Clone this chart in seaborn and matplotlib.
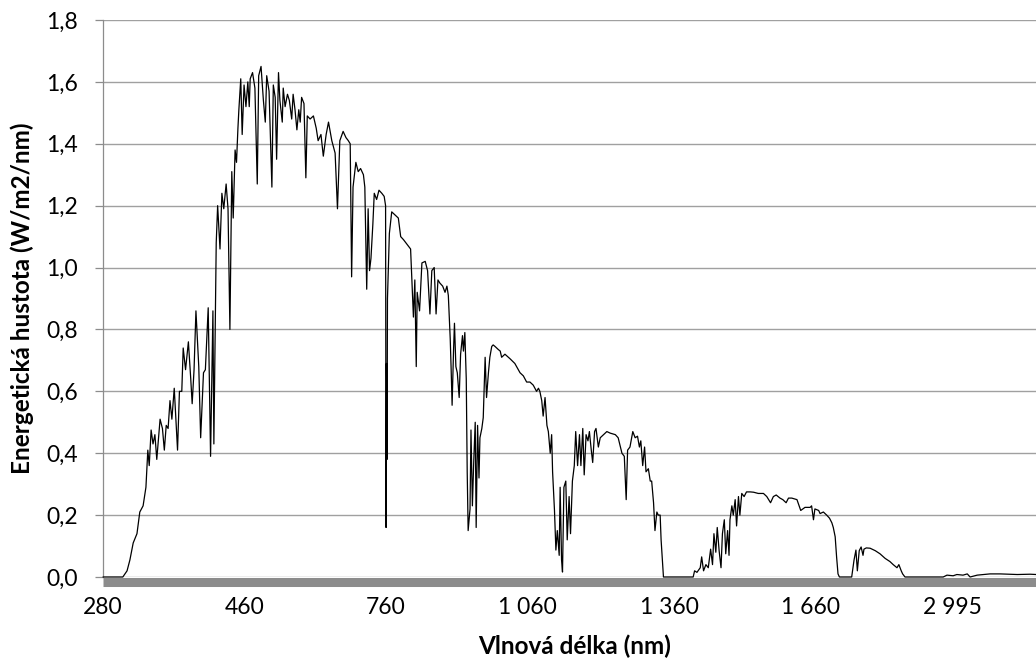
import numpy as np
import matplotlib
matplotlib.use("Agg")
import matplotlib.pyplot as plt
import seaborn as sns
import pandas as pd

# Spectral irradiance samples (wavelength in nm, W/m2/nm)
wavelength_nm = [
    280, 301, 305.5, 308.5, 312, 316, 319, 322.5, 325.5, 327.5, 329, 331, 333, 335, 337,
    340.5, 343, 345, 347, 349, 351, 353, 355.5, 359, 361, 363.5, 365, 367.5, 370.5, 373,
    374.5, 376.5, 378.5, 381.5, 383.5, 386.5, 388.5, 391.5, 394, 396.5, 397.5, 400,
    403, 408, 412, 416, 421, 425, 429, 433, 436, 440, 443, 446, 448, 452, 455, 459, 463,
    467, 470, 472, 477, 482, 487, 490, 495, 500, 504, 507, 512, 518, 521, 525, 528, 532,
    535, 540, 542, 546, 551, 555, 560, 563, 567, 571, 575, 578, 581, 586, 590, 593, 599,
    606, 612, 616, 622, 627, 633, 638, 645, 652, 657, 662, 669, 675, 680, 684, 687, 690,
    696, 701, 706, 712, 715, 719, 722, 725, 728, 732, 735, 740, 745, 751, 756, 759, 760,
    761, 762, 763, 767, 772, 779, 786, 791, 797, 802, 807, 812, 818, 821, 824, 826, 831,
    836, 843, 848, 853, 857, 862, 866, 870, 874, 880, 885, 889, 892, 896, 898, 900, 903,
    905, 908, 911, 915, 918, 922, 924, 927, 930, 932, 934, 938, 940, 943, 946, 949, 951,
    954, 957, 959, 963, 966, 970, 973, 977, 980, 984, 987, 991, 998, 1002, 1005, 1012,
    1023, 1033, 1044, 1051, 1058, 1065, 1072, 1079, 1083, 1086, 1090, 1093, 1097, 1101,
    1104, 1108, 1111, 1113, 1117, 1120, 1123, 1127, 1129, 1132, 1134, 1137, 1141, 1144,
    1148, 1151, 1155, 1159, 1162, 1166, 1170, 1173, 1177, 1180, 1184, 1188, 1191, 1195,
    1198, 1202, 1205, 1210, 1214, 1221, 1228, 1235, 1246, 1252, 1260, 1265, 1269, 1272,
    1277, 1283, 1288, 1293, 1297, 1300, 1304, 1308, 1311, 1316, 1320, 1323, 1327, 1330,
    1334, 1337, 1341, 1343, 1348, 1411, 1414, 1419, 1426, 1429, 1433, 1438, 1443, 1448,
    1452, 1455, 1459, 1462, 1466, 1470, 1473, 1477, 1480, 1484, 1487, 1489, 1493, 1496,
    1500, 1503, 1507, 1510, 1514, 1519, 1524, 1532, 1539, 1549, 1560, 1567, 1571, 1575,
    1581, 1587, 1595, 1601, 1608, 1613, 1620, 1631, 1639, 1648, 1659, 1662, 1666, 1669,
    1677, 1680, 1687, 1694, 1700, 1720, 1735, 1755, 1770, 1785, 1800, 1930, 1955, 1975,
    1990, 2010, 2030, 2050, 2060, 2085, 2125, 2180, 2230, 2285, 2335, 2370, 2410, 2430,
    2455, 2470, 2495, 2900, 2940, 3005, 3045, 3110, 3155, 3185, 3260, 3325, 3395, 3505,
    3685, 3820, 3885, 4000,
]
irradiance = [
    0.0, 0.0, 0.02, 0.055, 0.11, 0.14, 0.21, 0.23, 0.29, 0.41, 0.36, 0.475, 0.43, 0.46, 0.38,
    0.51, 0.48, 0.41, 0.49, 0.48, 0.57, 0.51, 0.61, 0.41, 0.60, 0.60, 0.74, 0.67, 0.76, 0.64,
    0.56, 0.67, 0.86, 0.68, 0.45, 0.66, 0.67, 0.87, 0.39, 0.86, 0.43, 1.08,
    1.20, 1.06, 1.24, 1.19, 1.27, 1.19, 0.80, 1.31, 1.16, 1.38, 1.34, 1.45, 1.51, 1.61, 1.43, 1.59, 1.52,
    1.60, 1.52, 1.61, 1.63, 1.58, 1.27, 1.62, 1.65, 1.54, 1.47, 1.62, 1.57, 1.26, 1.59, 1.55, 1.35, 1.63,
    1.54, 1.47, 1.58, 1.52, 1.56, 1.54, 1.48, 1.56, 1.51, 1.445, 1.51, 1.47, 1.55, 1.53, 1.29, 1.49, 1.48,
    1.49, 1.45, 1.41, 1.43, 1.36, 1.43, 1.47, 1.41, 1.37, 1.19, 1.41, 1.44, 1.42, 1.41, 1.40, 0.97, 1.26,
    1.34, 1.31, 1.32, 1.30, 1.26, 0.93, 1.19, 0.99, 1.03, 1.14, 1.24, 1.22, 1.25, 1.24, 1.23, 1.20, 0.16,
    0.69, 0.38, 0.90, 1.11, 1.18, 1.17, 1.16, 1.10, 1.09, 1.08, 1.07, 1.06, 0.84, 0.96, 0.68, 0.92, 0.86,
    1.015, 1.02, 0.99, 0.85, 0.99, 1.0, 0.85, 0.96, 0.95, 0.94, 0.92, 0.94, 0.91, 0.77, 0.67, 0.555, 0.73,
    0.82, 0.68, 0.66, 0.58, 0.72, 0.78, 0.73, 0.79, 0.64, 0.34, 0.15, 0.22, 0.475, 0.23, 0.38, 0.50, 0.16,
    0.49, 0.32, 0.45, 0.48, 0.515, 0.71, 0.58, 0.66, 0.71, 0.745, 0.75, 0.745, 0.735, 0.73, 0.71, 0.72,
    0.705, 0.69, 0.66, 0.65, 0.63, 0.63, 0.62, 0.60, 0.61, 0.60, 0.57, 0.52, 0.58, 0.49,
    0.47, 0.40, 0.46, 0.34, 0.215, 0.087, 0.15, 0.07, 0.29, 0.055, 0.016, 0.29, 0.31, 0.12,
    0.26, 0.14, 0.31, 0.36, 0.47, 0.36, 0.46, 0.36, 0.48, 0.33, 0.46, 0.44, 0.47, 0.41,
    0.37, 0.47, 0.48, 0.42, 0.45, 0.46, 0.47, 0.465, 0.46, 0.45, 0.40, 0.39, 0.25, 0.41,
    0.42, 0.47, 0.45, 0.455, 0.42, 0.44, 0.36, 0.42, 0.34, 0.35, 0.31, 0.31, 0.24, 0.15,
    0.21, 0.20, 0.20, 0.12, 0.0, 0.0, 0.02, 0.015, 0.03, 0.065, 0.02, 0.04, 0.03, 0.09,
    0.04, 0.14, 0.08, 0.16, 0.085, 0.03, 0.14, 0.185, 0.075, 0.15, 0.07, 0.185, 0.23, 0.20,
    0.25, 0.165, 0.26, 0.20, 0.27, 0.26, 0.275, 0.275, 0.274, 0.27, 0.27, 0.26, 0.25, 0.24,
    0.26, 0.265, 0.255, 0.25, 0.24, 0.255, 0.255, 0.25, 0.215, 0.225, 0.225, 0.23, 0.185, 0.22,
    0.215, 0.205, 0.21, 0.20, 0.19, 0.175, 0.16, 0.13, 0.065, 0.01, 0.0, 0.0, 0.055, 0.087,
    0.02, 0.085, 0.097, 0.07, 0.09, 0.094, 0.093, 0.085, 0.075, 0.06, 0.05, 0.04, 0.03, 0.04,
    0.02, 0.01, 0.0, 0.0, 0.006, 0.004, 0.008, 0.006, 0.01, 0.0, 0.006, 0.008, 0.01, 0.01,
    0.008, 0.009, 0.008, 0.007,
]

tick_nm = [280, 460, 760, 1060, 1360, 1660, 2995]
tick_labels = ["280", "460", "760", "1 060", "1 360", "1 660", "2 995"]
y_ticks = [0.0, 0.2, 0.4, 0.6, 0.8, 1.0, 1.2, 1.4, 1.6, 1.8]
y_tick_labels = ["0,0", "0,2", "0,4", "0,6", "0,8", "1,0", "1,2", "1,4", "1,6", "1,8"]

# Category spacing of the source table: 0.5 nm steps to 400 nm,
# 1 nm steps to 1700 nm, then 1702 nm and 5 nm steps up to 4000 nm.
_grid_nm = [270, 280, 400, 1700, 1702, 1705, 4000, 4100]
_grid_pos = [-20, 0, 240, 1540, 1541, 1542, 2001, 2021]


def nm_to_pos(w):
    return np.interp(w, _grid_nm, _grid_pos)


def pos_to_nm(p):
    return np.interp(p, _grid_pos, _grid_nm)


df = pd.DataFrame({"nm": wavelength_nm, "val": irradiance})

sns.set_theme(style="white")
plt.rcParams["font.family"] = ["Lato", "DejaVu Sans"]

fig = plt.figure(figsize=(10.36, 6.63), dpi=100)
W, H = 1036, 663
ax = fig.add_axes([103 / W, 86 / H, 944 / W, 557 / H])
ax.set_xscale("function", functions=(nm_to_pos, pos_to_nm))

sns.lineplot(data=df, x="nm", y="val", ax=ax, color="black", linewidth=0.9,
             estimator=None, sort=False, zorder=3, clip_on=False)

ax.set_xlim(280, 4000)
ax.set_ylim(0, 1.8)
ax.set_yticks(y_ticks, y_tick_labels)
ax.set_xticks(tick_nm, tick_labels)
ax.xaxis.set_minor_locator(matplotlib.ticker.NullLocator())

ax.yaxis.grid(True, color="#a0a0a0", linewidth=1.0)
ax.xaxis.grid(False)
ax.set_axisbelow(True)

for side in ("top", "right"):
    ax.spines[side].set_visible(False)
ax.spines["left"].set_color("#8c8c8c")
ax.spines["left"].set_linewidth(0.9)
ax.spines["bottom"].set_color("#8c8c8c")
ax.spines["bottom"].set_linewidth(6.5)
ax.spines["bottom"].set_position(("outward", 3.24))
ax.spines["bottom"].set_capstyle("butt")

ax.tick_params(axis="y", length=5.8, width=0.9, color="#8c8c8c", pad=12.2,
               labelsize=16.5, labelcolor="black", left=True)
ax.tick_params(axis="x", length=0, pad=11, labelsize=16.5, labelcolor="black", bottom=True)

ax.set_xlabel("Vlnová délka (nm)", fontsize=17.5, fontweight="bold", color="black")
ax.set_ylabel("Energetická hustota (W/m2/nm)", fontsize=17.5, fontweight="bold", color="black")
ax.xaxis.set_label_coords(0.5, (577 - 646) / 557)
ax.xaxis.label.set_verticalalignment("center")
ax.yaxis.set_label_coords((22 - 103) / 944, 0.5)
ax.yaxis.label.set_verticalalignment("center")

fig.savefig("out.png", dpi=100)
